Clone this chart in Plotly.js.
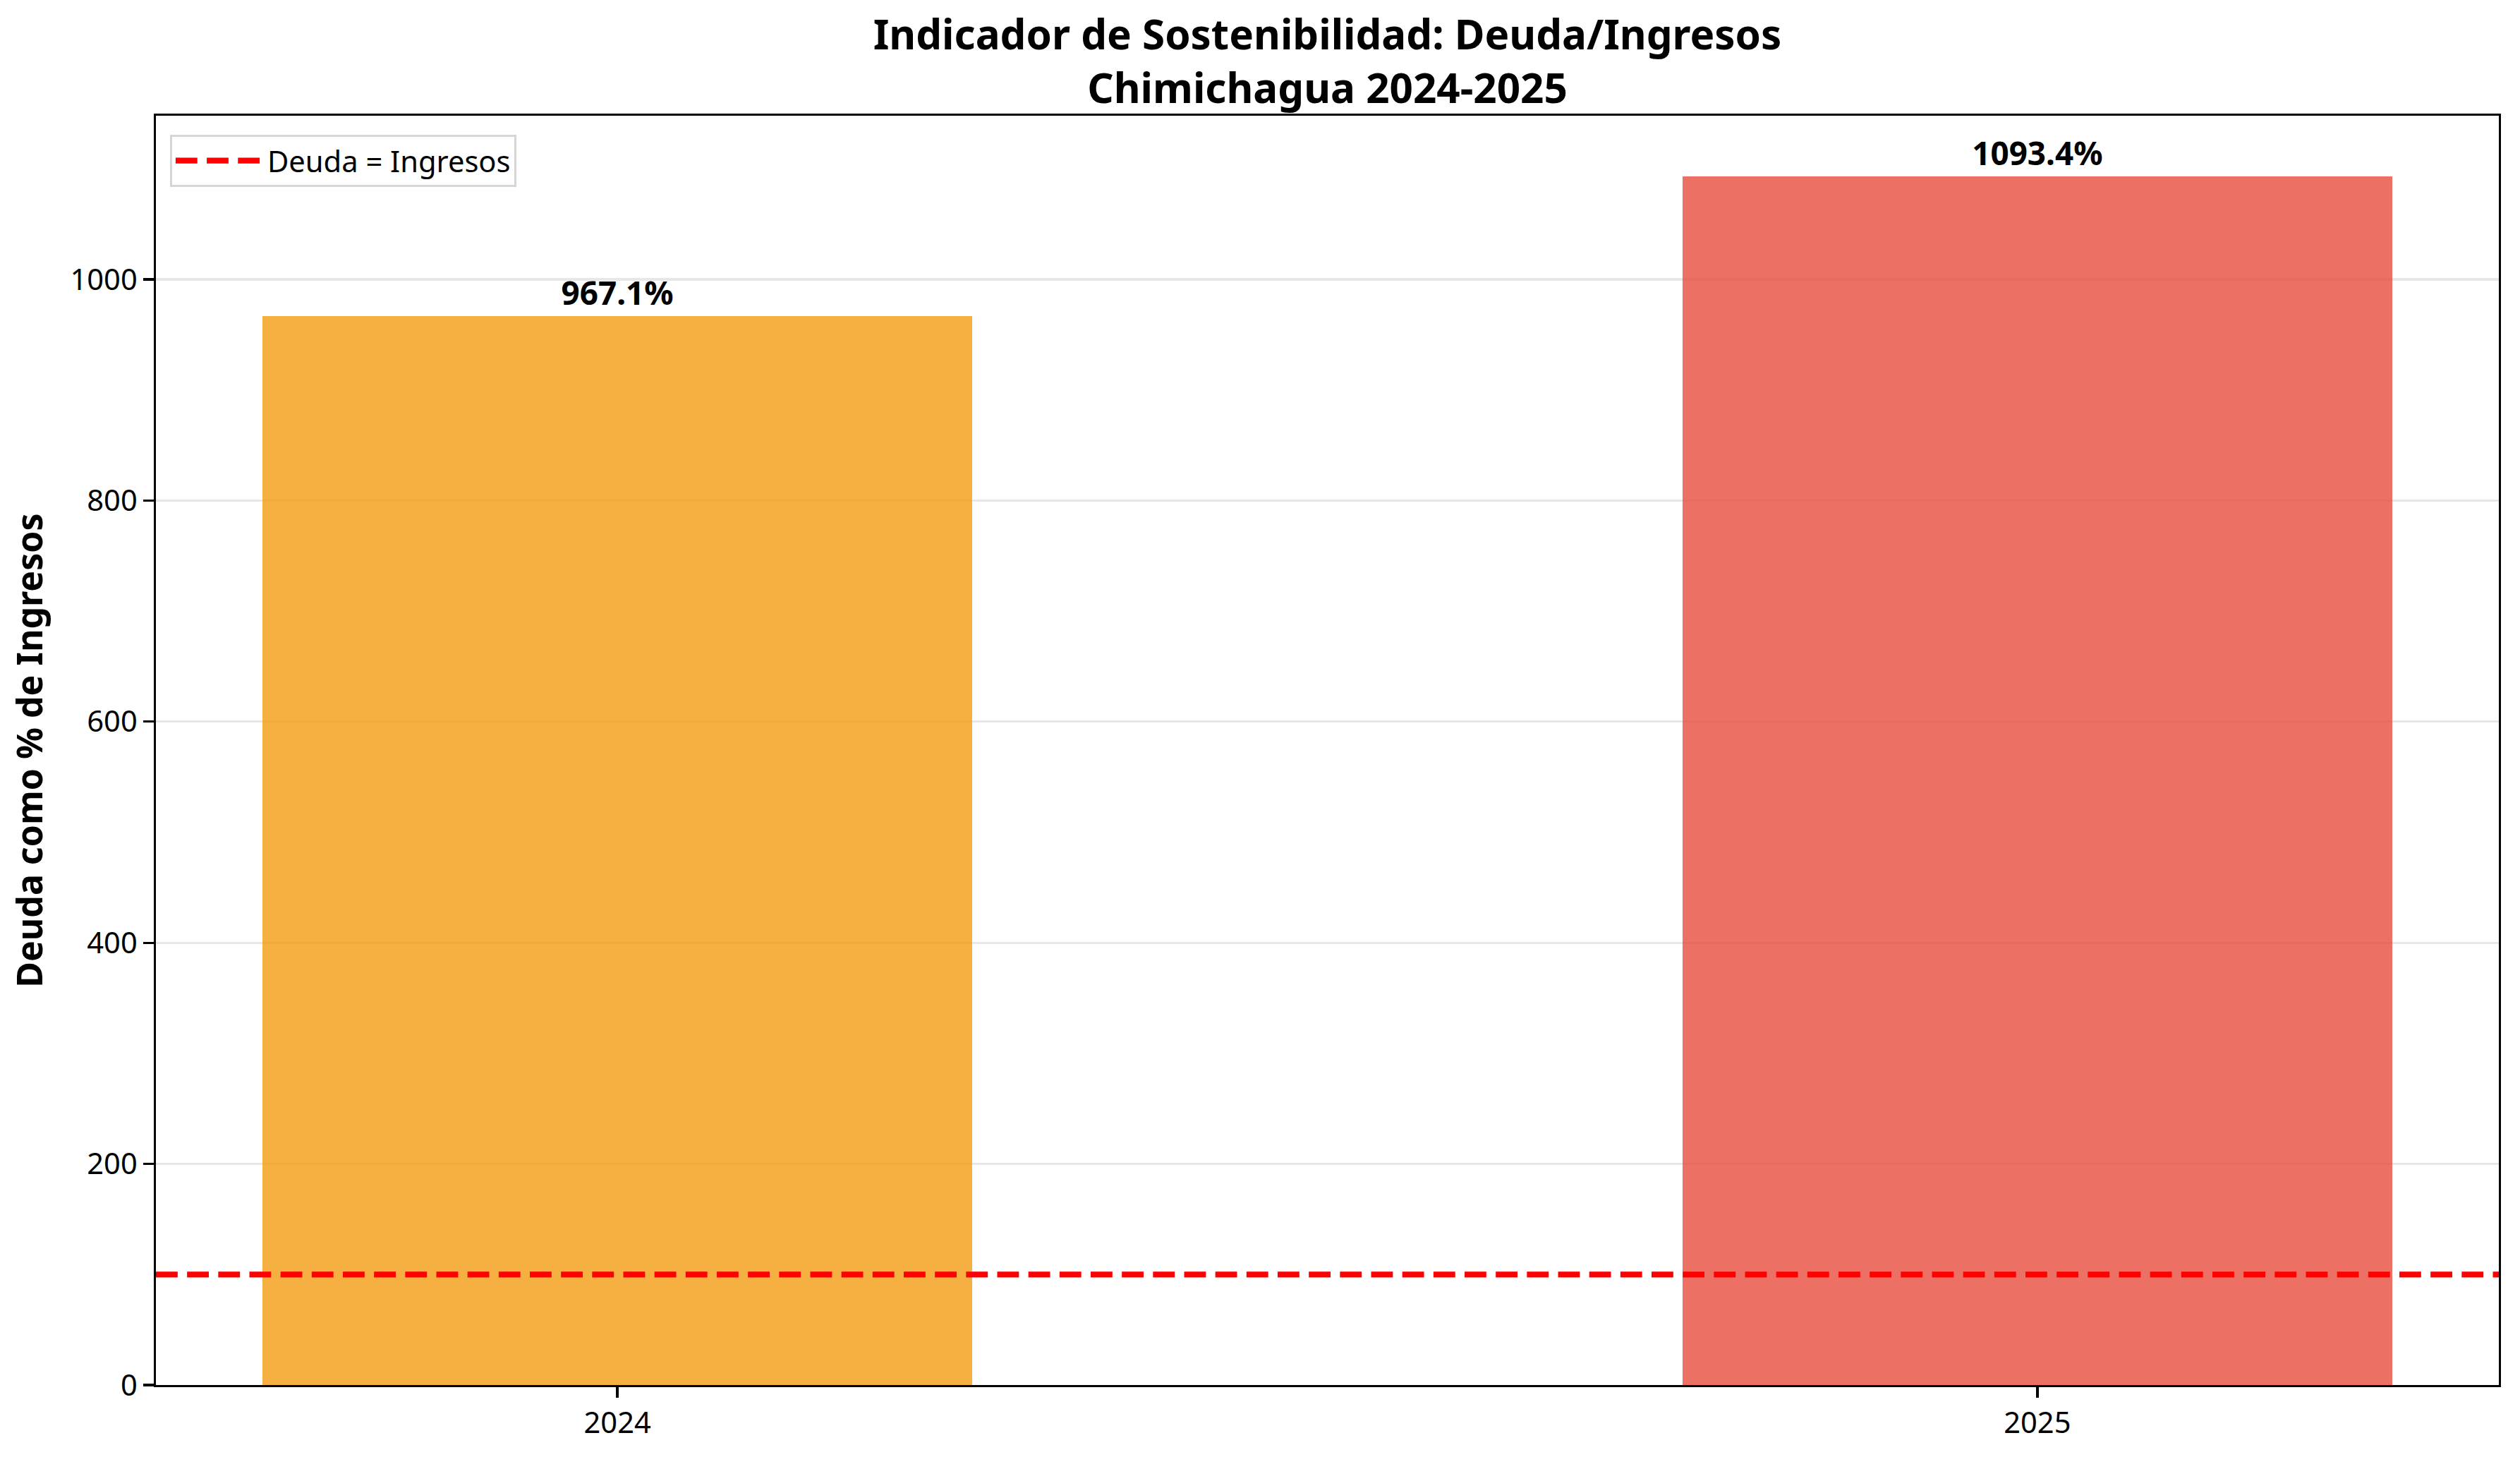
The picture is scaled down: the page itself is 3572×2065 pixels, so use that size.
<!DOCTYPE html>
<html>
<head>
<meta charset="utf-8">
<script src="https://cdn.plot.ly/plotly-3.0.1.min.js"></script>
<style>
  html, body { margin: 0; padding: 0; background: #fff; }
  #chart { width: 3572px; height: 2065px; }
</style>
</head>
<body>
<div id="chart"></div>
<script>
// Deuda como % de ingresos, Chimichagua
var years = ['2024', '2025'];
var debtRatio = [967.1, 1093.4];
var barColors = ['rgba(243,156,18,0.8)', 'rgba(231,76,60,0.8)'];
var barLabels = ['967.1%', '1093.4%'];
var yTicks = [0, 200, 400, 600, 800, 1000];
var threshold = 100;
var thresholdName = 'Deuda = Ingresos';

var FONT = 'Noto Sans, DejaVu Sans, sans-serif';
var PX = 300 / 72; // matplotlib points -> pixels

var bars = {
  type: 'bar',
  x: years,
  y: debtRatio,
  width: 0.5,
  marker: { color: barColors, line: { width: 0 } },
  text: barLabels.map(function (s) { return '<b>' + s + '</b>'; }),
  textposition: 'outside',
  constraintext: 'none',
  cliponaxis: false,
  textfont: { family: FONT, size: 11 * PX, color: '#000' },
  showlegend: false,
  hoverinfo: 'skip'
};

// reference line across the whole axis, on a hidden 0..1 axis
var refLine = {
  type: 'scatter',
  mode: 'lines',
  x: [0, 1],
  y: [threshold, threshold],
  xaxis: 'x2',
  name: thresholdName,
  line: { color: '#ff0000', width: 2 * PX, dash: (3.7 * 2 * PX) + 'px,' + (1.6 * 2 * PX) + 'px' },
  hoverinfo: 'skip'
};

var layout = {
  width: 3572,
  height: 2065,
  paper_bgcolor: '#fff',
  plot_bgcolor: '#fff',
  font: { family: FONT, color: '#000', size: 10 * PX },
  margin: { l: 221, r: 30, t: 164, b: 102, pad: 0 },
  title: {
    text: '<b>Indicador de Sostenibilidad: Deuda/Ingresos<br>Chimichagua 2024-2025</b>',
    font: { family: FONT, size: 14 * PX, color: '#000' },
    x: (221 + 3542) / 2 / 3572,
    xanchor: 'center',
    xref: 'container',
    yref: 'container',
    y: 1 - 70 / 2065,
    yanchor: 'middle'
  },
  xaxis: {
    type: 'category',
    range: [-0.325, 1.325],
    showgrid: false,
    zeroline: false,
    showline: true,
    linecolor: '#000',
    linewidth: 0.8 * PX,
    mirror: true,
    ticks: 'outside',
    ticklen: 3.5 * PX,
    tickwidth: 0.8 * PX,
    tickcolor: '#000',
    tickfont: { family: FONT, size: 10 * PX, color: '#000' }
  },
  xaxis2: {
    overlaying: 'x',
    range: [0, 1],
    visible: false,
    showgrid: false,
    zeroline: false
  },
  yaxis: {
    range: [0, 1093.4 * 1.05],
    tickvals: yTicks,
    ticktext: yTicks.map(String),
    showgrid: true,
    gridcolor: 'rgba(176,176,176,0.3)',
    gridwidth: 0.8 * PX,
    layer: 'above traces',
    zeroline: false,
    showline: true,
    linecolor: '#000',
    linewidth: 0.8 * PX,
    mirror: true,
    ticks: 'outside',
    ticklen: 3.5 * PX,
    tickwidth: 0.8 * PX,
    tickcolor: '#000',
    tickfont: { family: FONT, size: 10 * PX, color: '#000' },
    title: {
      text: '<b>Deuda como % de Ingresos</b>',
      font: { family: FONT, size: 12 * PX, color: '#000' },
      standoff: 24
    }
  },
  legend: {
    x: 0.006,
    y: 0.985,
    xanchor: 'left',
    yanchor: 'top',
    bgcolor: 'rgba(255,255,255,0.8)',
    bordercolor: '#d6d6d6',
    borderwidth: 3,
    font: { family: FONT, size: 10 * PX, color: '#000' },
    itemwidth: 125
  },
  bargap: 0
};

Plotly.newPlot('chart', [bars, refLine], layout, { displayModeBar: false, staticPlot: true });
</script>
</body>
</html>
